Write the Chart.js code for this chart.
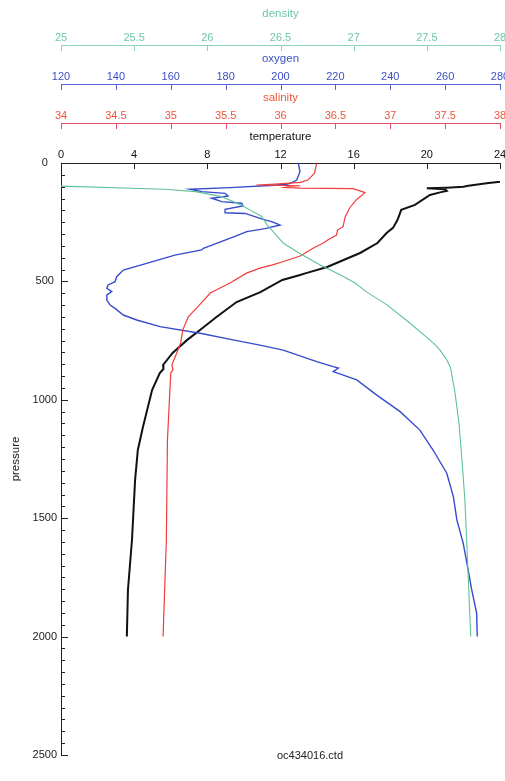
<!DOCTYPE html>
<html>
<head>
<meta charset="utf-8">
<script src="https://cdn.jsdelivr.net/npm/chart.js@4.4.1/dist/chart.umd.min.js"></script>
<style>
  html, body { margin: 0; padding: 0; background: #fff; overflow: hidden; }
  #wrap { width: 505px; height: 781px; overflow: hidden; }
</style>
</head>
<body>
<div id="wrap"><canvas id="ctd" width="540" height="781"></canvas></div>
<script>
// CTD cast oc434016 - pressure (dbar) and the reading at that depth
const tempPres = [0, 70, 79, 86, 96, 100, 104, 107, 111, 118, 124, 135, 177, 198, 240, 274, 296, 338, 380, 439, 465, 473, 494, 545, 587, 650, 705, 747, 802, 853, 870, 887, 959, 1115, 1212, 1339, 1592, 1803, 2000];
const tempVals = [24.6, 24.4, 24.0, 23.27, 22.27, 22.0, 21.09, 20.0, 21.0, 21.09, 20.72, 20.17, 19.35, 18.6, 18.4, 18.15, 17.8, 17.3, 16.35, 14.55, 13.4, 13.07, 12.1, 10.9, 9.6, 8.5, 7.6, 6.9, 6.1, 5.58, 5.6, 5.4, 4.98, 4.48, 4.2, 4.05, 3.88, 3.66, 3.6];

const salPres = [0, 43, 72, 82, 89, 93, 96, 99, 103, 106, 108, 125, 156, 190, 227, 269, 283, 304, 325, 338, 359, 393, 417, 431, 443, 465, 507, 549, 600, 650, 693, 705, 760, 819, 853, 874, 887, 1170, 1592, 2000];
const salVals = [36.33, 36.31, 36.25, 36.18, 35.95, 35.78, 36.18, 36.09, 36.04, 36.18, 36.66, 36.77, 36.69, 36.63, 36.59, 36.57, 36.52, 36.51, 36.43, 36.39, 36.30, 36.18, 36.02, 35.92, 35.82, 35.69, 35.54, 35.36, 35.26, 35.16, 35.12, 35.11, 35.09, 35.04, 35.01, 35.02, 35.00, 34.97, 34.96, 34.93];

const oxyPres = [0, 37, 72, 84, 90, 95, 104, 111, 121, 128, 139, 149, 163, 170, 181, 196, 210, 213, 238, 250, 262, 277, 290, 310, 360, 367, 389, 424, 452, 480, 501, 515, 529, 543, 557, 579, 600, 614, 642, 663, 691, 719, 747, 769, 790, 839, 860, 866, 881, 916, 980, 1050, 1128, 1212, 1310, 1409, 1508, 1606, 1719, 1803, 1902, 2000];
const oxyVals = [206.5, 207.1, 205.9, 204.0, 202.3, 196.2, 181.6, 167.0, 171.3, 179.8, 180.9, 174.9, 178.6, 185.9, 186.3, 179.8, 179.8, 187.1, 193.7, 197.3, 199.8, 194.4, 187.7, 183.4, 171.9, 171.3, 161.5, 151.2, 142.7, 140.3, 139.7, 137.2, 136.7, 138.5, 136.7, 136.7, 137.9, 139.7, 142.7, 147.6, 156.1, 170.7, 182.7, 192.5, 201.0, 213.2, 219.2, 221.1, 219.2, 227.8, 235.1, 243.6, 250.8, 255.6, 260.6, 263.0, 264.3, 266.6, 268.4, 269.7, 271.5, 271.7];

const densPres = [0, 96, 111, 121, 142, 177, 198, 225, 262, 290, 339, 381, 431, 473, 507, 541, 600, 684, 747, 769, 790, 825, 860, 959, 1100, 1254, 1423, 1705, 2000];
const densVals = [24.85, 24.9, 25.71, 25.92, 26.10, 26.23, 26.29, 26.37, 26.41, 26.45, 26.52, 26.63, 26.77, 26.91, 27.01, 27.08, 27.23, 27.40, 27.52, 27.56, 27.59, 27.63, 27.66, 27.69, 27.72, 27.74, 27.76, 27.78, 27.80];

const fileName = 'oc434016.ctd';

const pts = (ps, vs) => ps.map((p, i) => ({ x: vs[i], y: p }));

const labelFont = { family: 'Liberation Sans, Arial, Helvetica, sans-serif', size: 11 };
const titleFont = { family: 'Liberation Sans, Arial, Helvetica, sans-serif', size: 11.5 };

function topAxis(title, color, lineColor, min, max, step, weight, h, pad) {
  return {
    type: 'linear', axis: 'x', position: 'top', min: min, max: max, weight: weight,
    grid: { display: false, drawTicks: false },
    border: { display: true, color: lineColor, width: 1 },
    ticks: { stepSize: step, color: color, font: labelFont, padding: pad, autoSkip: false, maxRotation: 0,
             callback: v => String(v) },
    title: { display: true, text: title, color: color, font: titleFont, padding: { top: 7, bottom: 0 } },
    afterFit: s => { s.height = h; }
  };
}

// tick marks hang below each top axis line and point into the plot on the left axis
const tickMarks = {
  id: 'tickMarks',
  afterDraw(chart) {
    const ctx = chart.ctx;
    ctx.save();
    ctx.lineWidth = 1;
    ['dens', 'oxy', 'sal', 'temp'].forEach(id => {
      const s = chart.scales[id];
      ctx.strokeStyle = s.options.border.color;
      s.ticks.forEach(t => {
        const x = Math.round(s.getPixelForValue(t.value)) + 0.5;
        ctx.beginPath();
        ctx.moveTo(x, s.bottom);
        ctx.lineTo(x, s.bottom + 6);
        ctx.stroke();
      });
    });
    const ys = chart.scales.p;
    ctx.strokeStyle = '#222';
    for (let v = 0; v <= 2500; v += 50) {
      const y = Math.round(ys.getPixelForValue(v)) + 0.5;
      const len = v % 500 === 0 ? 7 : 4;
      ctx.beginPath();
      ctx.moveTo(ys.right, y);
      ctx.lineTo(ys.right + len, y);
      ctx.stroke();
    }
    ctx.fillStyle = '#222';
    ctx.font = '11px "Liberation Sans", Arial, sans-serif';
    ctx.textAlign = 'center';
    ctx.textBaseline = 'middle';
    ctx.fillText(fileName, 310, ys.bottom + 1);
    ctx.restore();
  }
};

new Chart(document.getElementById('ctd'), {
  type: 'scatter',
  data: {
    datasets: [
      { label: 'density', data: pts(densPres, densVals), xAxisID: 'dens', yAxisID: 'p',
        borderColor: 'rgb(95,195,150)', borderWidth: 1.1 },
      { label: 'salinity', data: pts(salPres, salVals), xAxisID: 'sal', yAxisID: 'p',
        borderColor: 'rgb(240,60,60)', borderWidth: 1.2 },
      { label: 'oxygen', data: pts(oxyPres, oxyVals), xAxisID: 'oxy', yAxisID: 'p',
        borderColor: 'rgb(55,75,205)', borderWidth: 1.4 },
      { label: 'temperature', data: pts(tempPres, tempVals), xAxisID: 'temp', yAxisID: 'p',
        borderColor: '#111', borderWidth: 2 }
    ].map(d => Object.assign(d, { showLine: true, pointRadius: 0, tension: 0, fill: false }))
  },
  options: {
    responsive: false,
    animation: false,
    layout: { padding: { left: 0, top: 0, right: 40, bottom: 26 } },
    plugins: { legend: { display: false }, tooltip: { enabled: false } },
    scales: {
      dens: topAxis('density', 'rgb(110,200,165)', 'rgb(140,210,185)', 25, 28, 0.5, 3, 45, 0),
      oxy: topAxis('oxygen', 'rgb(60,80,195)', 'rgb(85,100,210)', 120, 280, 20, 2, 39, 0),
      sal: topAxis('salinity', 'rgb(240,85,60)', 'rgb(232,80,105)', 34, 38, 0.5, 1, 39, 0),
      temp: topAxis('temperature', '#111', '#222', 0, 24, 4, 0, 40, 1),
      p: {
        type: 'linear', axis: 'y', position: 'left', reverse: true, min: 0, max: 2500,
        grid: { display: false, drawTicks: false },
        border: { display: true, color: '#222', width: 1 },
        ticks: { stepSize: 500, color: '#222', font: labelFont, padding: 4, crossAlign: 'center',
                 callback: v => String(v) },
        title: { display: true, text: 'pressure', color: '#222', font: titleFont, padding: { top: 9, bottom: 0 } },
        afterFit: s => { s.width = 61; }
      }
    }
  },
  plugins: [tickMarks]
});
</script>
</body>
</html>
